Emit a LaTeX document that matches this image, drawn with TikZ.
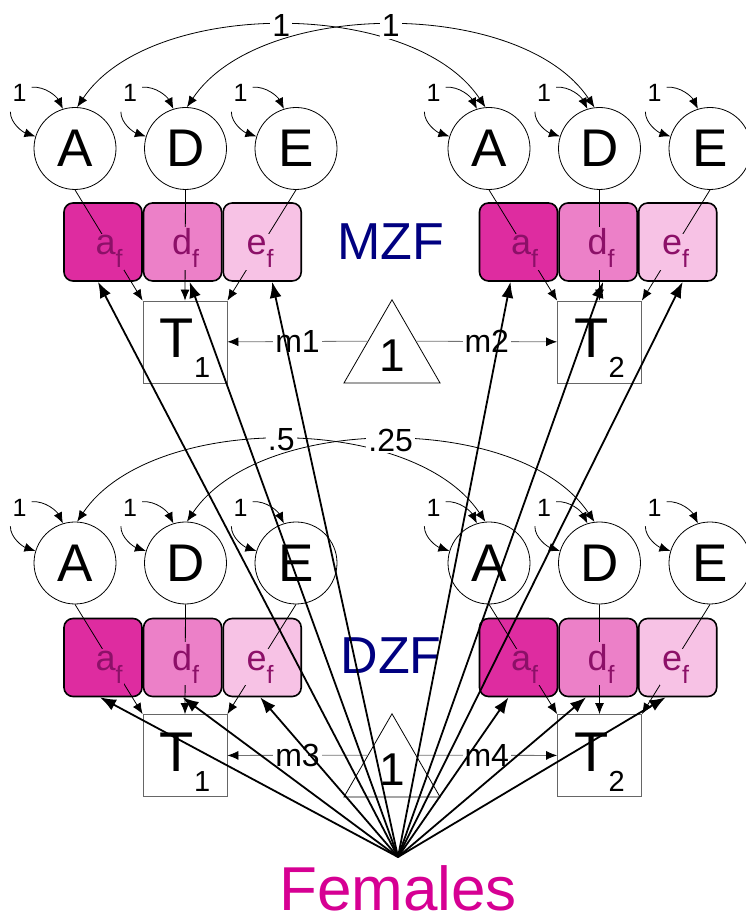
\documentclass[tikz,border=0pt]{standalone}
\usepackage{fontspec}
\setmainfont{Liberation Sans}
\usetikzlibrary{arrows.meta,positioning,shapes.geometric}
\definecolor{zygblue}{RGB}{0,0,128}
\definecolor{femmag}{RGB}{214,0,147}
\definecolor{apink}{RGB}{222,44,160}
\definecolor{dpink}{RGB}{236,128,200}
\definecolor{epink}{RGB}{247,194,229}
\definecolor{labpurple}{RGB}{140,16,104}

\begin{document}
\begin{tikzpicture}[
			x=1pt, y=1pt,
			>={Latex[length=11pt,width=9pt]},
			latent/.style={
				circle,
				draw=black,
				line width=0.8pt,
				minimum size=82pt,
				inner sep=0pt,
				font=\fontsize{53}{53}\selectfont
			},
			pathbox/.style={
				rectangle,
				rounded corners=9pt,
				draw=black,
				line width=1.6pt,
				minimum width=78pt,
				minimum height=78pt,
				inner sep=0pt
			},
			pathlab/.style={
				anchor=base,
				inner sep=2pt,
				text=labpurple,
				font=\fontsize{36}{36}\selectfont
			},
			obs/.style={
				rectangle,
				draw=black!60,
				line width=0.8pt,
				minimum width=84pt,
				minimum height=82pt,
				inner sep=0pt,
				text height=40pt,
				text depth=8pt,
				font=\fontsize{56}{56}\selectfont
			},
			meanbox/.style={
				regular polygon,
				regular polygon sides=3,
				draw=black,
				line width=0.8pt,
				minimum size=111pt,
				inner sep=0pt,
				font=\fontsize{46}{46}\selectfont
			},
			thinarr/.style={->, line width=0.8pt},
			covarr/.style={<->, line width=0.8pt},
			varlab/.style={inner sep=0pt, font=\fontsize{25}{25}\selectfont},
			covlab/.style={fill=white, inner sep=2pt, font=\fontsize{32}{32}\selectfont},
			meanarr/.style={
				-{Latex[length=11pt,width=9pt,color=black]},
				draw=black!55,
				line width=0.8pt
			},
			meanlab/.style={fill=white, inner sep=2pt, text=black, font=\fontsize{32}{32}\selectfont},
			femarr/.style={-{Latex[length=16pt,width=12pt]}, line width=1.8pt},
			grouplab/.style={text=zygblue, font=\fontsize{52}{52}\selectfont}
			]
			\useasboundingbox (0,0) rectangle (746,920);
			
			% MZ females: latent factors
			\node [latent] (mzA1) at (75,771.5) {A};
			\node [latent, right=27.7pt of mzA1] (mzD1) {D};
			\node [latent, right=27.7pt of mzD1] (mzE1) {E};
			\node [latent] (mzA2) at (489,771.5) {A};
			\node [latent, right=27.7pt of mzA2] (mzD2) {D};
			\node [latent, right=27.7pt of mzD2] (mzE2) {E};
			
			% MZ females: path coefficients
			\node [pathbox, fill=apink] (mza1) at (103,678) {};
			\node [pathbox, fill=dpink, right=0pt of mza1] (mzd1) {};
			\node [pathbox, fill=epink, right=0pt of mzd1] (mze1) {};
			\node [pathbox, fill=apink] (mza2) at (518.5,678) {};
			\node [pathbox, fill=dpink, right=0pt of mza2] (mzd2) {};
			\node [pathbox, fill=epink, right=0pt of mzd2] (mze2) {};
			
			% MZ females: twins and mean
			\node [obs] (mzT1) at (185,578) {T\raisebox{-20pt}{\fontsize{29}{29}\selectfont 1}};
			\node [obs] (mzT2) at (599.5,578) {T\raisebox{-20pt}{\fontsize{29}{29}\selectfont 2}};
			\node [meanbox] (mztri) at (392,564.7) {1};
			\node [grouplab] (mzf) at (391,678) {MZF};
			
			% DZ females: latent factors
			\node [latent] (dzA1) at (75,357) {A};
			\node [latent, right=27.7pt of dzA1] (dzD1) {D};
			\node [latent, right=27.7pt of dzD1] (dzE1) {E};
			\node [latent] (dzA2) at (489,357) {A};
			\node [latent, right=27.7pt of dzA2] (dzD2) {D};
			\node [latent, right=27.7pt of dzD2] (dzE2) {E};
			
			% DZ females: path coefficients
			\node [pathbox, fill=apink] (dza1) at (103,262.5) {};
			\node [pathbox, fill=dpink, right=0pt of dza1] (dzd1) {};
			\node [pathbox, fill=epink, right=0pt of dzd1] (dze1) {};
			\node [pathbox, fill=apink] (dza2) at (518.5,262.5) {};
			\node [pathbox, fill=dpink, right=0pt of dza2] (dzd2) {};
			\node [pathbox, fill=epink, right=0pt of dzd2] (dze2) {};
			
			% DZ females: twins and mean
			\node [obs] (dzT1) at (185,164.5) {T\raisebox{-20pt}{\fontsize{29}{29}\selectfont 1}};
			\node [obs] (dzT2) at (599.5,164.5) {T\raisebox{-20pt}{\fontsize{29}{29}\selectfont 2}};
			\node [meanbox] (dztri) at (392,150.7) {1};
			\node [grouplab] (dzf) at (391,264) {DZF};
			
			% factor -> twin
			\draw [thinarr] (mzA1.south) -- (mzT1.north west);
			\draw [thinarr] (mzD1.south) -- (mzT1.north);
			\draw [thinarr] (mzE1.south) -- (mzT1.north east);
			\draw [thinarr] (mzA2.south) -- (mzT2.north west);
			\draw [thinarr] (mzD2.south) -- (mzT2.north);
			\draw [thinarr] (mzE2.south) -- (mzT2.north east);
			\draw [thinarr] (dzA1.south) -- (dzT1.north west);
			\draw [thinarr] (dzD1.south) -- (dzT1.north);
			\draw [thinarr] (dzE1.south) -- (dzT1.north east);
			\draw [thinarr] (dzA2.south) -- (dzT2.north west);
			\draw [thinarr] (dzD2.south) -- (dzT2.north);
			\draw [thinarr] (dzE2.south) -- (dzT2.north east);
			
			% path labels
			\node [pathlab, fill=apink] (mza1l) at ([shift={(6,-13)}]mza1) {a\raisebox{-13pt}{\fontsize{25}{25}\selectfont f}};
			\node [pathlab, fill=dpink] (mzd1l) at ([shift={(3,-13)}]mzd1) {d\raisebox{-13pt}{\fontsize{25}{25}\selectfont f}};
			\node [pathlab, fill=epink] (mze1l) at ([shift={(-2,-13)}]mze1) {e\raisebox{-13pt}{\fontsize{25}{25}\selectfont f}};
			\node [pathlab, fill=apink] (mza2l) at ([shift={(6,-13)}]mza2) {a\raisebox{-13pt}{\fontsize{25}{25}\selectfont f}};
			\node [pathlab, fill=dpink] (mzd2l) at ([shift={(3,-13)}]mzd2) {d\raisebox{-13pt}{\fontsize{25}{25}\selectfont f}};
			\node [pathlab, fill=epink] (mze2l) at ([shift={(-2,-13)}]mze2) {e\raisebox{-13pt}{\fontsize{25}{25}\selectfont f}};
			\node [pathlab, fill=apink] (dza1l) at ([shift={(6,-13)}]dza1) {a\raisebox{-13pt}{\fontsize{25}{25}\selectfont f}};
			\node [pathlab, fill=dpink] (dzd1l) at ([shift={(3,-13)}]dzd1) {d\raisebox{-13pt}{\fontsize{25}{25}\selectfont f}};
			\node [pathlab, fill=epink] (dze1l) at ([shift={(-2,-13)}]dze1) {e\raisebox{-13pt}{\fontsize{25}{25}\selectfont f}};
			\node [pathlab, fill=apink] (dza2l) at ([shift={(6,-13)}]dza2) {a\raisebox{-13pt}{\fontsize{25}{25}\selectfont f}};
			\node [pathlab, fill=dpink] (dzd2l) at ([shift={(3,-13)}]dzd2) {d\raisebox{-13pt}{\fontsize{25}{25}\selectfont f}};
			\node [pathlab, fill=epink] (dze2l) at ([shift={(-2,-13)}]dze2) {e\raisebox{-13pt}{\fontsize{25}{25}\selectfont f}};
			
			% variances
			\foreach \c in {mzA1,mzD1,mzE1,mzA2,mzD2,mzE2,dzA1,dzD1,dzE1,dzA2,dzD2,dzE2}{
				\node [varlab] (v\c) at ([shift={(-55.5,55.5)}]\c) {1};
				\draw [thinarr] ([shift={(5,-3)}]v\c.north east) .. controls +(14,1) and +(-6,12) .. (\c.107);
				\draw [thinarr] ([shift={(-2,-10)}]v\c.south west) .. controls +(0,-12) and +(-12,4) .. (\c.163);
			}
			
			% covariances
			\draw [covarr] (mzA1.87) .. controls +(73,109) and +(-73,109) .. (mzA2.95) node [covlab, pos=0.5] {1};
			\draw [covarr] (mzD1.88) .. controls +(73,109) and +(-73,109) .. (mzD2.97) node [covlab, pos=0.5] {1};
			\draw [covarr] (dzA1.87) .. controls +(73,109) and +(-73,109) .. (dzA2.95) node [covlab, pos=0.5] {.5};
			\draw [covarr] (dzD1.88) .. controls +(73,109) and +(-73,109) .. (dzD2.97) node [covlab, pos=0.5] {.25};
			
			% means
			\draw [meanarr] (mztri.side 1) -- node [meanlab] {m1} (mzT1);
			\draw [meanarr] (mztri.side 3) -- node [meanlab] {m2} (mzT2);
			\draw [meanarr] (dztri.side 1) -- node [meanlab] {m3} (dzT1);
			\draw [meanarr] (dztri.side 3) -- node [meanlab] {m4} (dzT2);
			
			% females
			\node [inner sep=0pt, text=femmag, font=\fontsize{62}{62}\selectfont] (femlab) at (398,32) {Females};
			\coordinate (fem) at (398,63);
			\draw [femarr] (fem) -- ([xshift=-5pt]mza1.south);
			\draw [femarr] (fem) -- ([xshift=7pt]mzd1.south);
			\draw [femarr] (fem) -- ([xshift=10pt]mze1.south);
			\draw [femarr] (fem) -- ([xshift=-8pt]mza2.south);
			\draw [femarr] (fem) -- ([xshift=5pt]mzd2.south);
			\draw [femarr] (fem) -- ([xshift=5pt]mze2.south);
			\draw [femarr] (fem) -- ([xshift=-3pt]dza1.south);
			\draw [femarr] (fem) -- (dzd1.south);
			\draw [femarr] (fem) -- ([xshift=-2pt]dze1.south);
			\draw [femarr] (fem) -- ([xshift=-10pt]dza2.south);
			\draw [femarr] (fem) -- ([xshift=-12pt]dzd2.south);
			\draw [femarr] (fem) -- ([xshift=-12pt]dze2.south);
			
\end{tikzpicture}
\end{document}
